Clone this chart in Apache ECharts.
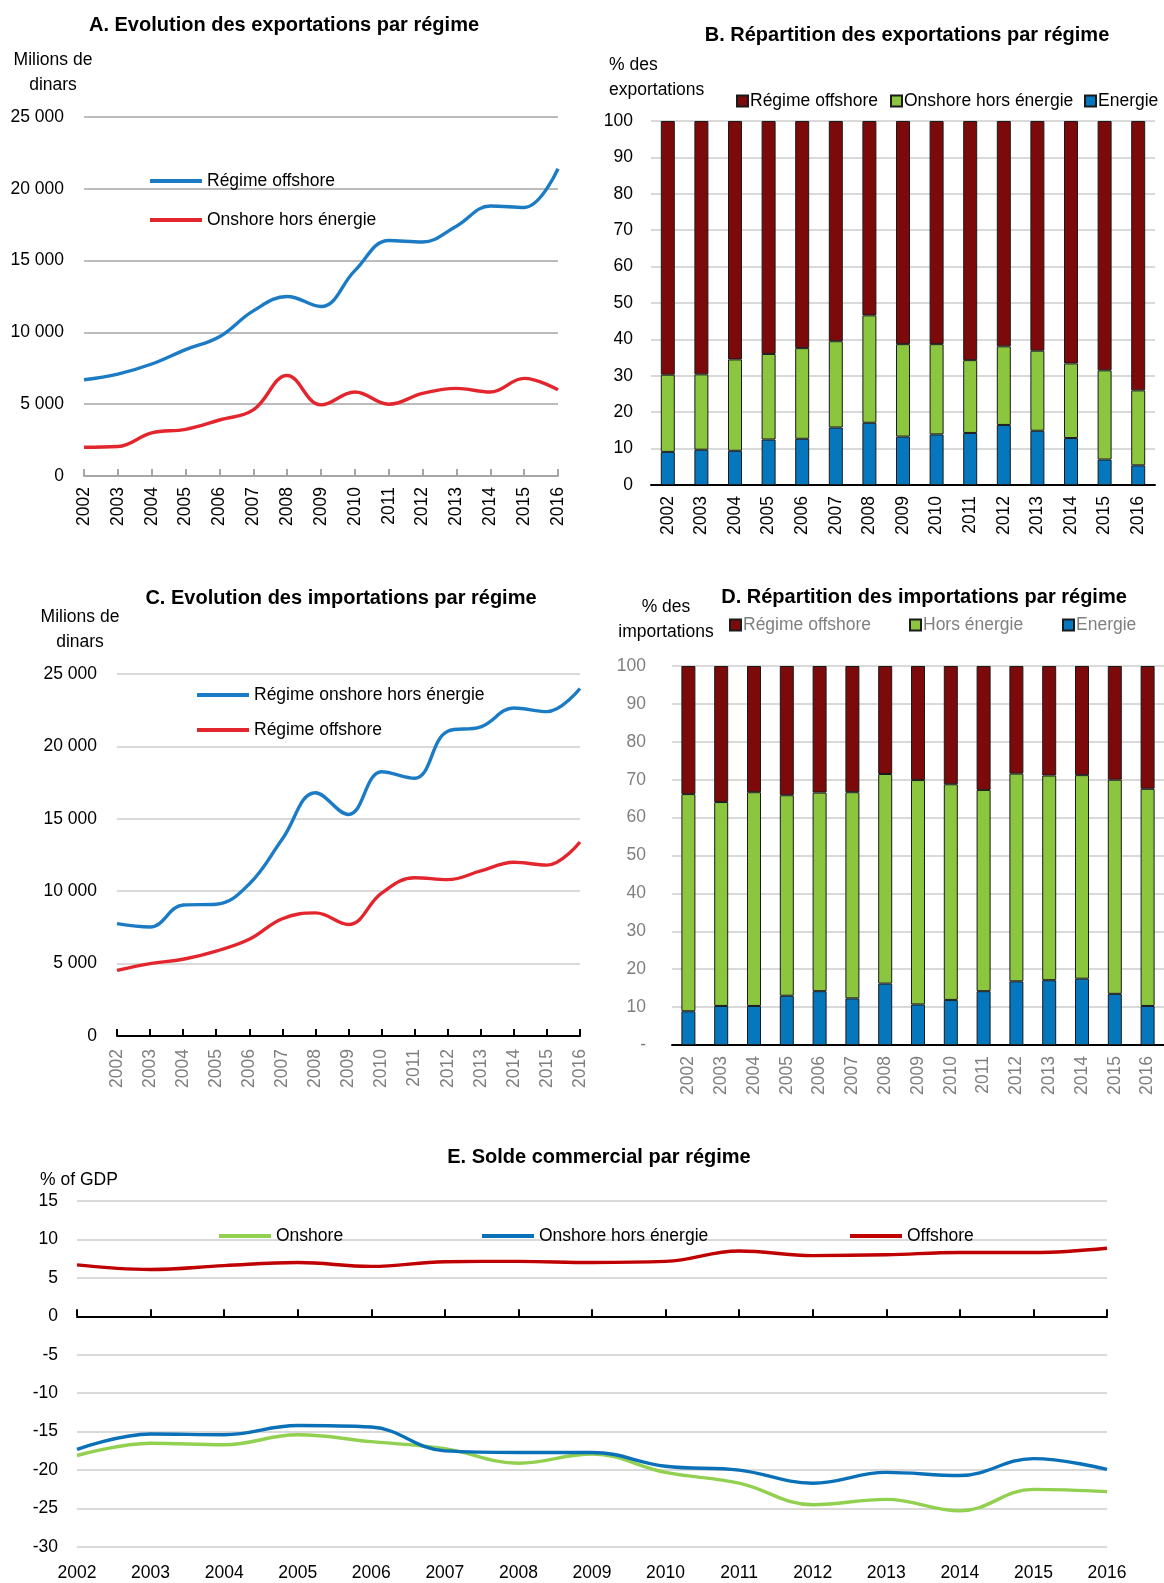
<!DOCTYPE html>
<html>
<head>
<meta charset="utf-8">
<script src="https://cdn.jsdelivr.net/npm/echarts@6/dist/echarts.min.js"></script>
<style>
  html, body { margin: 0; padding: 0; background: #fff; }
  .panel { position: absolute; }
</style>
</head>
<body>
<div id="chartA" class="panel" style="left:0;top:0;width:582px;height:560px;"></div>
<div id="chartB" class="panel" style="left:582px;top:0;width:582px;height:560px;"></div>
<div id="chartC" class="panel" style="left:0;top:560px;width:600px;height:540px;"></div>
<div id="chartD" class="panel" style="left:600px;top:560px;width:564px;height:540px;"></div>
<div id="chartE" class="panel" style="left:0;top:1110px;width:1164px;height:473px;"></div>
<script>
// années
const years = ['2002','2003','2004','2005','2006','2007','2008','2009','2010','2011','2012','2013','2014','2015','2016'];

// A. exportations (millions de dinars)
const expOffshore = [6700, 7100, 7800, 8800, 9700, 11500, 12500, 11800, 14300, 16400, 16300, 17400, 18800, 18700, 21400];
const expOnshoreHorsEnergie = [2000, 2050, 3000, 3250, 3900, 4600, 7000, 4950, 5850, 5000, 5750, 6100, 5850, 6800, 6000];

// B. répartition des exportations (%)
const expPartEnergie = [9.1, 9.7, 9.4, 12.5, 12.7, 15.8, 17.1, 13.3, 13.9, 14.3, 16.5, 14.9, 12.9, 7.0, 5.4];
const expPartHorsEnergie = [21.2, 20.7, 25.1, 23.5, 24.9, 23.7, 29.5, 25.4, 24.8, 20.0, 21.6, 22.0, 20.5, 24.5, 20.6];
const expPartOffshore = [69.7, 69.6, 65.5, 64.0, 62.4, 60.5, 53.4, 61.3, 61.3, 65.7, 61.9, 63.1, 66.6, 68.5, 74.0];

// C. importations (millions de dinars)
const impOnshoreHorsEnergie = [7760, 7530, 9050, 9100, 10500, 13600, 16800, 15300, 18250, 17800, 21050, 21350, 22650, 22400, 24000];
const impOffshore = [4530, 5000, 5300, 5870, 6680, 8100, 8500, 7700, 9870, 10930, 10800, 11400, 12000, 11800, 13400];

// D. répartition des importations (%)
const impPartEnergie = [8.9, 10.3, 10.3, 13.0, 14.2, 12.3, 16.2, 10.7, 11.9, 14.2, 16.8, 17.1, 17.5, 13.5, 10.3];
const impPartHorsEnergie = [57.3, 53.8, 56.4, 52.9, 52.4, 54.4, 55.3, 59.2, 56.9, 53.1, 54.8, 54.0, 53.7, 56.5, 57.3];
const impPartOffshore = [33.8, 35.9, 33.3, 34.1, 33.4, 33.3, 28.5, 30.1, 31.2, 32.7, 28.4, 28.9, 28.8, 30.0, 32.4];

// E. solde commercial (% du PIB)
const soldeOnshore = [-18.1, -16.5, -16.7, -15.4, -16.3, -17.2, -19.1, -17.9, -20.3, -21.7, -24.5, -23.8, -25.3, -22.5, -22.8];
const soldeOnshoreHorsEnergie = [-17.3, -15.3, -15.4, -14.2, -14.4, -17.5, -17.7, -17.7, -19.5, -20.0, -21.7, -20.3, -20.7, -18.5, -19.9];
const soldeOffshore = [6.7, 6.1, 6.6, 7.0, 6.5, 7.1, 7.15, 7.0, 7.15, 8.5, 7.9, 8.0, 8.3, 8.3, 8.85];

const FONT = '"Liberation Sans", Arial, sans-serif';
const FS = 17.5;
const BLUE = '#1b7bc4', RED = '#e3262d';
const BAR_RED = '#7c0a0a', BAR_GREEN = '#8cc63f', BAR_BLUE = '#0577bd';
const GRID_LIGHT = '#d9d9d9';

const milliers = v => String(v).replace(/\B(?=(\d{3})+(?!\d))/g, ' ');

// petits utilitaires pour les textes posés à la main
const titre = (txt, x, y) => ({ type: 'text', x: x, y: y,
  style: { text: txt, align: 'center', verticalAlign: 'middle', textAlign: 'center', textVerticalAlign: 'middle',
    fontFamily: FONT, fontSize: 20, fontWeight: 'bold', fill: '#000' } });
const texte = (txt, x, y, align, color) => ({ type: 'text', x: x, y: y,
  style: { text: txt, align: align, verticalAlign: 'middle', textAlign: align, textVerticalAlign: 'middle',
    fontFamily: FONT, fontSize: FS, fill: color || '#000', lineHeight: 25 } });
const legendeLigne = (name, left, cy, color) => ({ data: [name], left: left, top: cy - 10, icon: 'rect',
  itemWidth: 52, itemHeight: 4, itemGap: 0, selectedMode: false,
  textStyle: { fontFamily: FONT, fontSize: FS, color: color || '#000', lineHeight: 20 } });
const legendeCarre = (name, left, cy, color) => ({ data: [name], left: left, top: cy - 10, icon: 'rect',
  itemWidth: 11, itemHeight: 11, itemGap: 0, selectedMode: false,
  textStyle: { fontFamily: FONT, fontSize: FS, color: color || '#000', lineHeight: 20, padding: [0, 0, 0, -3] } });

const ligne = (name, data, color) => ({ name: name, type: 'line', data: data, smooth: 0.4, symbol: 'none',
  lineStyle: { color: color, width: 3.4 }, itemStyle: { color: color } });
const barre = (name, data, color) => ({ name: name, type: 'bar', stack: 'tot', data: data, barWidth: 14,
  itemStyle: { color: color, borderColor: '#1a1a1a', borderWidth: 1 } });

// ---------- A ----------
const chartA = echarts.init(document.getElementById('chartA'));
chartA.setOption({
  animation: false,
  graphic: [titre('A. Evolution des exportations par régime', 284, 25), texte('Milions de\ndinars', 53, 73, 'center')],
  legend: [legendeLigne('Régime offshore', 145, 176), legendeLigne('Onshore hors énergie', 145, 215)],
  grid: { left: 84, top: 117, width: 474, height: 359 },
  xAxis: { type: 'category', data: years, boundaryGap: false,
    axisLine: { lineStyle: { color: '#a6a6a6', width: 2 } },
    axisTick: { inside: true, length: 7, lineStyle: { color: '#a6a6a6', width: 2 } },
    axisLabel: { rotate: 90, interval: 0, margin: 11, color: '#000', fontFamily: FONT, fontSize: FS } },
  yAxis: { type: 'value', min: 0, max: 25000, interval: 5000,
    axisLine: { show: false }, axisTick: { show: false },
    splitLine: { lineStyle: { color: '#a6a6a6', width: 1.5 } },
    axisLabel: { formatter: milliers, margin: 20, color: '#000', fontFamily: FONT, fontSize: FS } },
  series: [ligne('Régime offshore', expOffshore, BLUE), ligne('Onshore hors énergie', expOnshoreHorsEnergie, RED)]
});

// ---------- B ----------
const chartB = echarts.init(document.getElementById('chartB'));
chartB.setOption({
  animation: false,
  graphic: [titre('B. Répartition des exportations par régime', 325, 35), texte('% des\nexportations', 27, 78, 'left')],
  legend: [legendeCarre('Régime offshore', 149, 96), legendeCarre('Onshore hors énergie', 303, 96), legendeCarre('Energie', 497, 96)],
  grid: { left: 69, top: 121, width: 504, height: 364 },
  xAxis: { type: 'category', data: years, boundaryGap: true,
    axisLine: { lineStyle: { color: '#000', width: 2 } },
    axisTick: { inside: true, length: 7, lineStyle: { color: '#000', width: 2 } },
    axisLabel: { rotate: 90, interval: 0, margin: 11, color: '#000', fontFamily: FONT, fontSize: FS } },
  yAxis: { type: 'value', min: 0, max: 100, interval: 10,
    axisLine: { show: false }, axisTick: { show: false },
    splitLine: { lineStyle: { color: GRID_LIGHT, width: 2 } },
    axisLabel: { margin: 18, color: '#000', fontFamily: FONT, fontSize: FS } },
  series: [barre('Energie', expPartEnergie, BAR_BLUE), barre('Onshore hors énergie', expPartHorsEnergie, BAR_GREEN),
    barre('Régime offshore', expPartOffshore, BAR_RED)]
});

// ---------- C ----------
const chartC = echarts.init(document.getElementById('chartC'));
chartC.setOption({
  animation: false,
  graphic: [titre('C. Evolution des importations par régime', 341, 38), texte('Milions de\ndinars', 80, 70, 'center')],
  legend: [legendeLigne('Régime onshore hors énergie', 192, 130), legendeLigne('Régime offshore', 192, 165)],
  grid: { left: 117, top: 114, width: 463, height: 362 },
  xAxis: { type: 'category', data: years, boundaryGap: false,
    axisLine: { lineStyle: { color: '#000', width: 2 } },
    axisTick: { inside: true, length: 7, lineStyle: { color: '#000', width: 2 } },
    axisLabel: { rotate: 90, interval: 0, margin: 13, color: '#7f7f7f', fontFamily: FONT, fontSize: FS } },
  yAxis: { type: 'value', min: 0, max: 25000, interval: 5000,
    axisLine: { show: false }, axisTick: { show: false },
    splitLine: { lineStyle: { color: GRID_LIGHT, width: 2 } },
    axisLabel: { formatter: milliers, margin: 20, color: '#000', fontFamily: FONT, fontSize: FS } },
  series: [ligne('Régime onshore hors énergie', impOnshoreHorsEnergie, BLUE), ligne('Régime offshore', impOffshore, RED)]
});

// ---------- D ----------
const chartD = echarts.init(document.getElementById('chartD'));
chartD.setOption({
  animation: false,
  graphic: [titre('D. Répartition des importations par régime', 324, 37), texte('% des\nimportations', 66, 60, 'center')],
  legend: [legendeCarre('Régime offshore', 124, 60, '#7f7f7f'), legendeCarre('Hors énergie', 304, 60, '#7f7f7f'),
    legendeCarre('Energie', 457, 60, '#7f7f7f')],
  grid: { left: 72, top: 106, width: 492, height: 379 },
  xAxis: { type: 'category', data: years, boundaryGap: true,
    axisLine: { lineStyle: { color: '#000', width: 2 } },
    axisTick: { inside: true, length: 7, lineStyle: { color: '#000', width: 2 } },
    axisLabel: { rotate: 90, interval: 0, margin: 11, color: '#7f7f7f', fontFamily: FONT, fontSize: FS } },
  yAxis: { type: 'value', min: 0, max: 100, interval: 10,
    axisLine: { show: false }, axisTick: { show: false },
    splitLine: { lineStyle: { color: GRID_LIGHT, width: 2 } },
    axisLabel: { formatter: v => v === 0 ? '-' : v, margin: 26, color: '#7f7f7f', fontFamily: FONT, fontSize: FS } },
  series: [barre('Energie', impPartEnergie, BAR_BLUE), barre('Hors énergie', impPartHorsEnergie, BAR_GREEN),
    barre('Régime offshore', impPartOffshore, BAR_RED)]
});

// ---------- E ----------
const chartE = echarts.init(document.getElementById('chartE'));
chartE.setOption({
  animation: false,
  graphic: [titre('E. Solde commercial par régime', 599, 47), texte('% of GDP', 40, 70, 'left')],
  legend: [legendeLigne('Onshore', 214, 121), legendeLigne('Onshore hors énergie', 477, 121), legendeLigne('Offshore', 845, 121)],
  grid: { left: 77, top: 91, width: 1030, height: 346 },
  xAxis: [
    { type: 'category', data: years, boundaryGap: false, position: 'bottom',
      axisLine: { show: false, onZero: false }, axisTick: { show: false },
      axisLabel: { interval: 0, margin: 17, color: '#000', fontFamily: FONT, fontSize: FS } },
    { type: 'category', data: years, boundaryGap: false, position: 'bottom',
      axisLine: { onZero: true, lineStyle: { color: '#000', width: 2 } },
      axisTick: { inside: true, length: 7, lineStyle: { color: '#000', width: 2 } },
      axisLabel: { show: false } }
  ],
  yAxis: { type: 'value', min: -30, max: 15, interval: 5,
    axisLine: { show: false }, axisTick: { show: false },
    splitLine: { lineStyle: { color: GRID_LIGHT, width: 2 } },
    axisLabel: { margin: 19, color: '#000', fontFamily: FONT, fontSize: FS } },
  series: [ligne('Onshore', soldeOnshore, '#92d050'), ligne('Onshore hors énergie', soldeOnshoreHorsEnergie, '#0a70b8'),
    ligne('Offshore', soldeOffshore, '#c00000')]
});
</script>
</body>
</html>
